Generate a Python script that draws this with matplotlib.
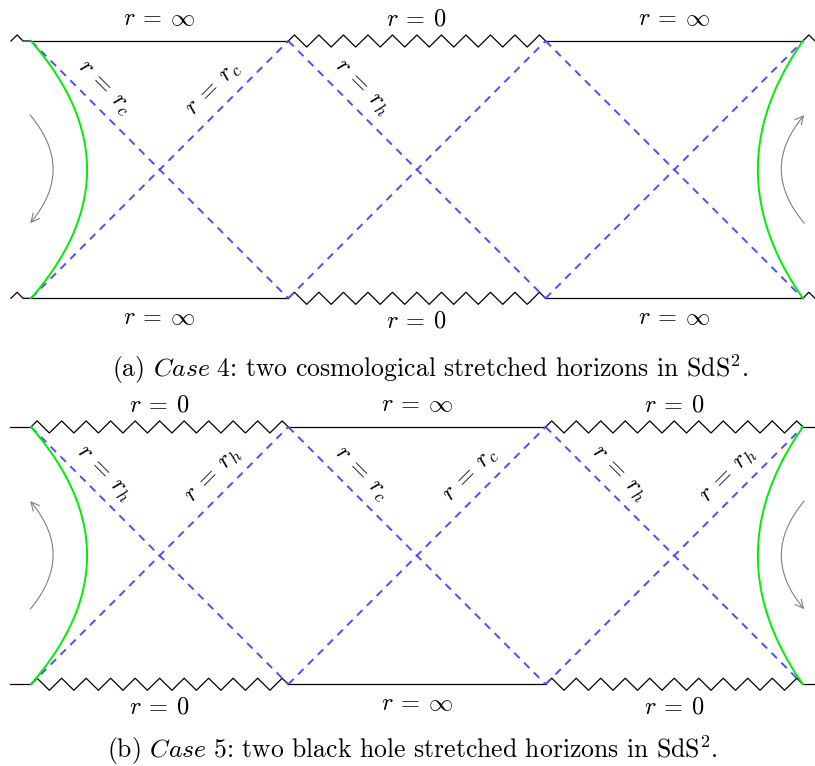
import numpy as np
import matplotlib.pyplot as plt
from matplotlib.patches import FancyArrowPatch

plt.rcParams['mathtext.fontset'] = 'cm'
plt.rcParams['font.family'] = 'serif'
plt.rcParams['font.serif'] = ['cmr10', 'DejaVu Serif']
plt.rcParams['axes.unicode_minus'] = False
plt.rcParams['lines.scale_dashes'] = False

# boundary type of each square (top / bottom), 'inf' = r=inf line, 'sing' = r=0 singularity
top_a = ['inf', 'sing', 'inf']
bot_a = ['inf', 'sing', 'inf']
top_b = ['sing', 'inf', 'sing']
bot_b = ['sing', 'inf', 'sing']
bound_labels = {'inf': r'$r\:=\:\infty$', 'sing': r'$r\:=\:0$'}

# horizon labels: (square, direction of dashed line, horizon)
horizons_a = [(0, 'down', 'c'), (0, 'up', 'c'), (1, 'down', 'h')]
horizons_b = [(0, 'down', 'h'), (0, 'up', 'h'), (1, 'down', 'c'),
              (1, 'up', 'c'), (2, 'down', 'h'), (2, 'up', 'h')]

# stretched horizon bulge (fraction of square) left / right
bulge_left = 0.218
bulge_right = 0.175
# direction of the gray flow arrows (left, right)
arrows_a = ('down', 'up')
arrows_b = ('up', 'down')

cap_a = r'(a) $\mathit{Case\ 4}$: two cosmological stretched horizons in SdS$^2$.'
cap_b = r'(b) $\mathit{Case\ 5}$: two black hole stretched horizons in SdS$^2$.'

BLUE = '#4d4dff'
GREEN = '#00ee00'
GRAY = '#808080'
AMP = 0.0235
NZ = 21


def zigzag(x0, x1, y, m=NZ, amp=AMP):
    d = (x1 - x0) / m
    xs = [x0] + [x0 + d / 2 + j * d for j in range(m)] + [x1]
    ys = [y] + [y + amp * (1 if j % 2 == 0 else -1) for j in range(m)] + [y]
    return xs, ys


def boundary(ax, kinds, y, side):
    for i, k in enumerate(kinds):
        if k == 'inf':
            ax.plot([i, i + 1], [y, y], color='k', lw=0.9)
        else:
            xs, ys = zigzag(i, i + 1, y)
            ax.plot(xs, ys, color='k', lw=0.9)
        off = 0.085 if side == 'top' else (-0.075 if k == 'inf' else -0.09)
        ax.text(i + 0.5, y + off, bound_labels[k], ha='center', va='center', fontsize=17.5)
    # stubs beyond the outer corners
    for xc, sgn, k in [(0, -1, kinds[0]), (3, 1, kinds[-1])]:
        if k == 'sing':
            ax.plot([xc, xc + sgn * 0.08], [y, y], color='k', lw=0.9)
        else:
            if sgn < 0:
                xs, ys = [0, -0.031, -0.054, -0.078], [y, y, y + AMP, y]
            else:
                xs, ys = [3, 3.023, 3.047], [y, y + AMP, y]
            ax.plot(xs, ys, color='k', lw=0.9)


def panel(ax, y0, top, bot, horizons, arrows):
    boundary(ax, top, y0 + 1, 'top')
    boundary(ax, bot, y0, 'bottom')
    for i in range(3):
        ax.plot([i, i + 1], [y0 + 1, y0], color=BLUE, lw=1.4, dashes=(5.5, 4.5))
        ax.plot([i, i + 1], [y0, y0 + 1], color=BLUE, lw=1.4, dashes=(5.5, 4.5))
    for i, d, h in horizons:
        lab = r'$r\:=\:r_%s$' % h
        dl = 0.05
        if d == 'down':
            a = 0.234
            x, y, rot = i + a + dl, y0 + 1 - a + dl, -45
        else:
            b = 0.762
            x, y, rot = i + b - dl, y0 + b + dl, 45
        ax.text(x, y, lab, ha='center', va='center', rotation=rot,
                rotation_mode='anchor', fontsize=17.5)
    s = np.linspace(-1, 1, 200)
    ax.plot(bulge_left * (1 - s ** 2), y0 + 0.5 + 0.5 * s, color=GREEN, lw=1.4)
    ax.plot(3 - bulge_right * (1 - s ** 2), y0 + 0.5 + 0.5 * s, color=GREEN, lw=1.4)
    ytop, ybot = y0 + 0.712, y0 + 0.292
    for xc, rad, d in [(-0.003, 1, arrows[0]), (3.005, -1, arrows[1])]:
        p1, p2 = (xc, ytop), (xc, ybot)
        if d == 'up':
            p1, p2 = p2, p1
        r = 0.42 * rad * (1 if d == 'down' else -1)
        ax.add_patch(FancyArrowPatch(p1, p2, connectionstyle='arc3,rad=%f' % -r,
                                     arrowstyle='->,head_length=0.6,head_width=0.3',
                                     mutation_scale=10, color=GRAY, lw=0.8,
                                     shrinkA=0, shrinkB=0))


fig = plt.figure(figsize=(8.15, 7.66), dpi=100)
ax = fig.add_axes([0, 0, 1, 1])
u = 257.3
ax.set_xlim(-31 / u, 784 / u)
ax.set_ylim(1 - 725 / u, 1 + 41 / u)
ax.axis('off')

panel(ax, 0, top_a, bot_a, horizons_a, arrows_a)
panel(ax, -1.5, top_b, bot_b, horizons_b, arrows_b)

fig.text(430 / 815, 1 - 369 / 766, cap_a, ha='center', va='center', fontsize=18.5)
fig.text(412 / 815, 1 - 750 / 766, cap_b, ha='center', va='center', fontsize=18.5)

fig.savefig('out.png', dpi=100)
